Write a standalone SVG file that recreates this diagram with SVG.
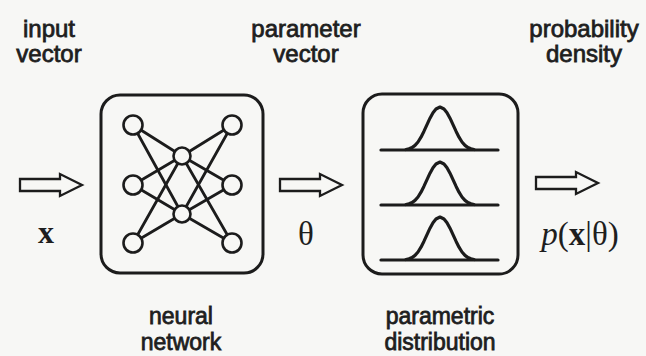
<svg xmlns="http://www.w3.org/2000/svg" xmlns:xlink="http://www.w3.org/1999/xlink" width="646" height="356" viewBox="0 0 646 356">
<style>
.lbl{font-family:"Liberation Sans",Arial,sans-serif;font-size:24px;fill:#1e1e1e;stroke:#1e1e1e;stroke-width:0.8;text-anchor:middle}
.low{font-size:23px}
.math{font-family:"Liberation Serif","Times New Roman",serif;fill:#1e1e1e;text-anchor:middle}
.box{fill:none;stroke:#1c1c1c;stroke-width:3}
.edge{stroke:#1c1c1c;stroke-width:2.8;stroke-linecap:round}
.neuron{fill:#f7f7f5;stroke:#1c1c1c;stroke-width:2.6}
.curve{fill:none;stroke:#1c1c1c;stroke-width:3.2;stroke-linejoin:round;stroke-linecap:round}
.arrow{fill:#f7f7f5;stroke:#1c1c1c;stroke-width:2.3;stroke-linejoin:miter}
</style>
<defs>
<path id="arrowShape" d="M0,-6 H40 V-11 L62,0 L40,11 V6 H0 Z"/>
<g id="bell">
<line x1="381" y1="0" x2="498" y2="0" class="curve"/>
<path class="curve" d="M406,-0.5 L409,-1.2 L412,-2.4 L415,-4.6 L418,-8 L421,-12.8 L424,-18.8 L427,-25.3 L430,-31.8 L433,-37.2 L436,-41 L440,-43 L444,-41 L447,-37.2 L450,-31.8 L453,-25.3 L456,-18.8 L459,-12.8 L462,-8 L465,-4.6 L468,-2.4 L471,-1.2 L474,-0.5"/>
</g>
</defs>
<rect x="0" y="0" width="646" height="356" fill="#f7f7f5"/>

<g id="label-input">
<text class="lbl" x="49" y="37">input</text>
<text class="lbl" x="49" y="62">vector</text>
</g>
<g id="label-parameter">
<text class="lbl" x="306" y="37">parameter</text>
<text class="lbl" x="306" y="62">vector</text>
</g>
<g id="label-density">
<text class="lbl" x="584" y="37">probability</text>
<text class="lbl" x="584" y="62">density</text>
</g>

<g id="connectors">
<use xlink:href="#arrowShape" class="arrow" transform="translate(20,185)"/>
<use xlink:href="#arrowShape" class="arrow" transform="translate(280,185)"/>
<use xlink:href="#arrowShape" class="arrow" transform="translate(536,183)"/>
</g>

<g id="input-x">
<text class="math" x="46" y="243" font-size="32" font-weight="bold">x</text>
</g>

<g id="neural-network">
<rect class="box" x="101" y="95" width="162" height="178" rx="19"/>
<g id="nn-edges">
<line class="edge" x1="133" y1="125" x2="182" y2="156"/>
<line class="edge" x1="133" y1="125" x2="182" y2="214"/>
<line class="edge" x1="133" y1="185" x2="182" y2="156"/>
<line class="edge" x1="133" y1="185" x2="182" y2="214"/>
<line class="edge" x1="133" y1="243" x2="182" y2="156"/>
<line class="edge" x1="133" y1="243" x2="182" y2="214"/>
<line class="edge" x1="232" y1="125" x2="182" y2="156"/>
<line class="edge" x1="232" y1="125" x2="182" y2="214"/>
<line class="edge" x1="232" y1="185" x2="182" y2="156"/>
<line class="edge" x1="232" y1="185" x2="182" y2="214"/>
<line class="edge" x1="232" y1="243" x2="182" y2="156"/>
<line class="edge" x1="232" y1="243" x2="182" y2="214"/>
</g>
<circle class="neuron" cx="133" cy="125" r="9.5"/>
<circle class="neuron" cx="133" cy="185" r="9.5"/>
<circle class="neuron" cx="133" cy="243" r="9.5"/>
<circle class="neuron" cx="182" cy="156" r="8.5"/>
<circle class="neuron" cx="182" cy="214" r="8.5"/>
<circle class="neuron" cx="232" cy="125" r="9.5"/>
<circle class="neuron" cx="232" cy="185" r="9.5"/>
<circle class="neuron" cx="232" cy="243" r="9.5"/>
</g>
<g id="label-neural">
<text class="lbl low" x="181" y="324">neural</text>
<text class="lbl low" x="181" y="350">network</text>
</g>

<g id="theta">
<text class="math" x="306" y="245" font-size="33">θ</text>
</g>

<g id="parametric-distribution">
<rect class="box" x="363" y="94" width="155" height="180" rx="19"/>
<use xlink:href="#bell" transform="translate(0,150)"/>
<use xlink:href="#bell" transform="translate(0,205)"/>
<use xlink:href="#bell" transform="translate(0,260)"/>
</g>
<g id="label-parametric">
<text class="lbl low" x="440" y="324">parametric</text>
<text class="lbl low" x="440" y="350">distribution</text>
</g>

<g id="output-density">
<text class="math" x="580" y="245" font-size="33"><tspan font-style="italic">p</tspan>(<tspan font-weight="bold">x</tspan>|θ)</text>
</g>
</svg>
